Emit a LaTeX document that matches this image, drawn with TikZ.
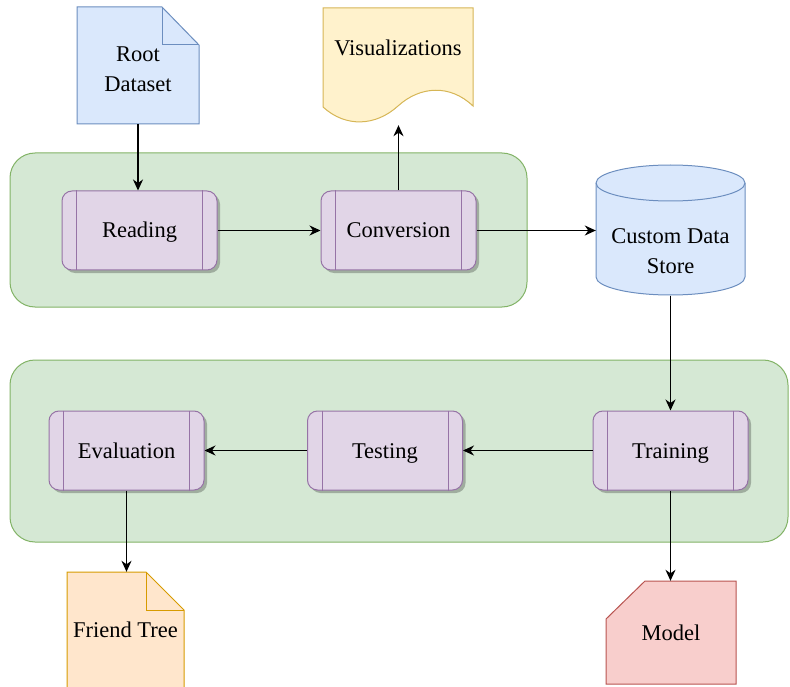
\documentclass[tikz,border=0pt]{standalone}
\usepackage{fontspec}
\setmainfont{Liberation Serif}
\usetikzlibrary{arrows.meta,shadows}

\definecolor{blueFill}{HTML}{DAE8FC}
\definecolor{blueLine}{HTML}{6C8EBF}
\definecolor{yellowFill}{HTML}{FFF2CC}
\definecolor{yellowLine}{HTML}{D6B656}
\definecolor{greenFill}{HTML}{D5E8D4}
\definecolor{greenLine}{HTML}{82B366}
\definecolor{purpleFill}{HTML}{E1D5E7}
\definecolor{purpleLine}{HTML}{9673A6}
\definecolor{orangeFill}{HTML}{FFE6CC}
\definecolor{orangeLine}{HTML}{D79B00}
\definecolor{redFill}{HTML}{F8CECC}
\definecolor{redLine}{HTML}{B85450}

\tikzset{
  lbl/.style={font=\fontsize{22.5}{30}\selectfont, align=center, inner sep=0pt},
  oneline/.style={lbl, text height=15pt, text depth=0pt},
  procbox/.style={oneline, draw=purpleLine, fill=purpleFill, line width=1pt,
    rounded corners=10pt, minimum width=155pt, minimum height=79pt,
    drop shadow={shadow xshift=3pt, shadow yshift=-3pt, fill=black, opacity=0.25}},
  groupbox/.style={draw=greenLine, fill=greenFill, line width=1pt, rounded corners=25pt},
  flow/.style={line width=1.3pt, -{Stealth[length=11pt, width=10pt, inset=3.5pt]}}
}

\begin{document}
\begin{tikzpicture}[x=1pt, y=-1pt]
    \useasboundingbox (0,0) rectangle (790,687);

    % containers
    \draw[groupbox] (10,153) rectangle (527,307);
    \draw[groupbox] (10,360) rectangle (788,542);

    % Root Dataset
    \draw[blueLine, fill=blueFill, line width=1pt]
        (77,7) -- (162,7) -- (199,45) -- (199,124) -- (77,124) -- cycle;
    \draw[blueLine, line width=1pt] (162,7) -- (162,45) -- (199,45);
    \node[lbl] at (138,69) {Root\\Dataset};
    \node[minimum width=122pt, minimum height=117pt, inner sep=0pt] (root) at (138,65.5) {};

    % Visualizations
    \draw[yellowLine, fill=yellowFill, line width=1pt]
        (323,8) -- (473,8) -- (473,106)
        .. controls (450,84) and (420,86) .. (398,106)
        .. controls (376,126) and (346,128) .. (323,107) -- cycle;
    \node[oneline, minimum height=154pt] (vis) at (398,48) {Visualizations};

    % Custom Data Store
    \draw[blueLine, fill=blueFill, line width=1pt]
        (596,183) -- (596,277) arc[start angle=180, end angle=0, x radius=74.5, y radius=18]
        -- (745,183) arc[start angle=0, end angle=-180, x radius=74.5, y radius=18];
    \draw[blueLine, line width=1pt]
        (596,183) arc[start angle=180, end angle=0, x radius=74.5, y radius=18];
    \node[minimum width=149pt, minimum height=130pt, inner sep=0pt] (ds) at (670.5,230.5) {};
    \node[lbl] at (670.5,251) {Custom Data\\Store};

    % Friend Tree
    \draw[orangeLine, fill=orangeFill, line width=1pt]
        (67,572) -- (146,572) -- (184,610) -- (184,690) -- (67,690) -- cycle;
    \draw[orangeLine, line width=1pt] (146,572) -- (146,610) -- (184,610);
    \node[oneline, minimum width=117pt, minimum height=116pt] (ft) at (125.5,630) {Friend Tree};

    % Model
    \draw[redLine, fill=redFill, line width=1pt]
        (645,581) -- (736,581) -- (736,684) -- (606,684) -- (606,619) -- cycle;
    \node[oneline, minimum height=103pt] (mdl) at (671,632.5) {Model};

    % processes
    \node[procbox] (rd) at (139.5,230.5) {Reading};
    \node[procbox] (cv) at (398.5,230.5) {Conversion};
    \node[procbox] (ev) at (126.5,450.5) {Evaluation};
    \node[procbox] (ts) at (385,450.5) {Testing};
    \node[procbox] (tr) at (670.5,450.5) {Training};
    \foreach \n in {rd,cv,ev,ts,tr} {
        \draw[purpleLine, line width=1pt] ([xshift=15pt]\n.north west) -- ([xshift=15pt]\n.south west);
        \draw[purpleLine, line width=1pt] ([xshift=-15pt]\n.north east) -- ([xshift=-15pt]\n.south east);
    }

    % connectors
    \draw[flow] (root.south) -- (root.south |- rd.north);
    \draw[flow] (rd.east) -- (cv.west);
    \draw[flow] (cv.north) -- (cv.north |- vis.south);
    \draw[flow] (cv.east) -- (ds.west);
    \draw[flow] (ds.south) -- (tr.north);
    \draw[flow] (tr.west) -- (ts.east);
    \draw[flow] (ts.west) -- (ev.east);
    \draw[flow] (ev.south) -- (ev.south |- ft.north);
    \draw[flow] (tr.south) -- (tr.south |- mdl.north);
\end{tikzpicture}
\end{document}
